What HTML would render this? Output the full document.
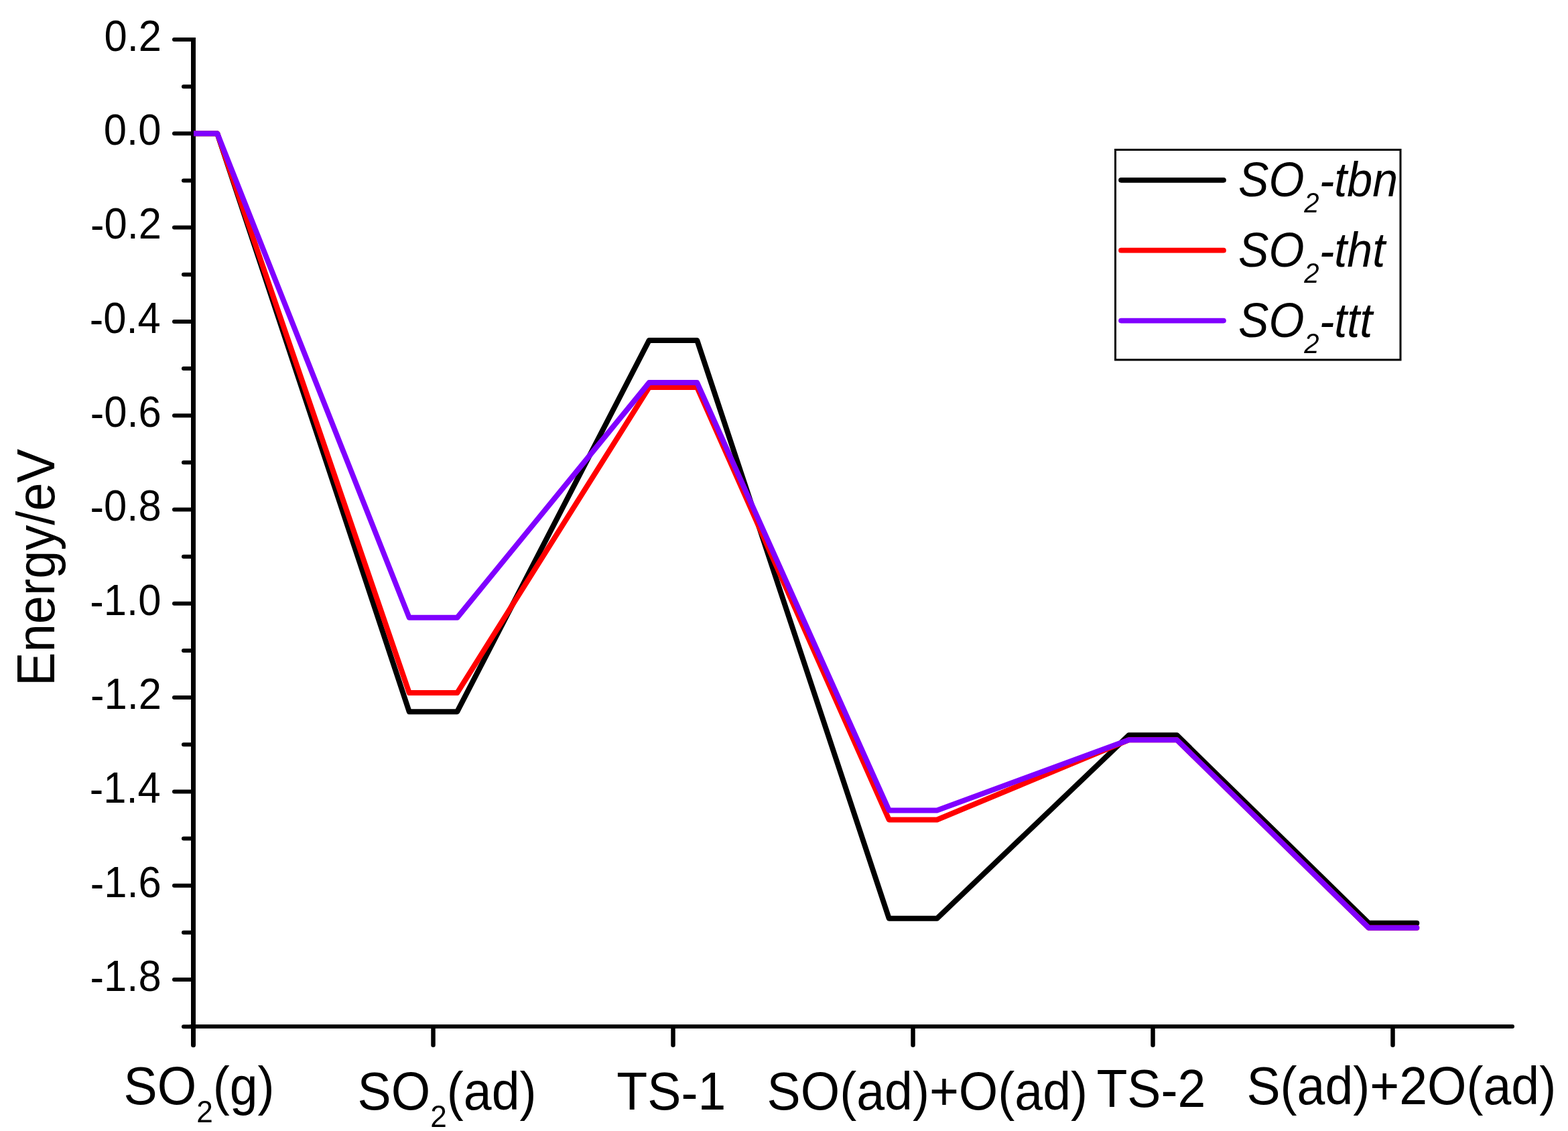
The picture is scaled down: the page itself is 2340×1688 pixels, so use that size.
<!DOCTYPE html>
<html><head><meta charset="utf-8"><title>Energy profile</title>
<style>html,body{margin:0;padding:0;background:#fff;}svg{display:block;}text{font-kerning:none;}</style>
</head><body>
<svg width="2340" height="1688" viewBox="0 0 2340 1688">
<rect width="2340" height="1688" fill="#fff"/>
<g stroke="#000" fill="none">
<line x1="288.5" y1="56" x2="288.5" y2="1559.5" stroke-width="7"/>
<line x1="285" y1="1532" x2="2257" y2="1532" stroke-width="6" stroke-linecap="round"/>
<g stroke-linecap="round">
<line x1="260" y1="59.00" x2="285.5" y2="59.00" stroke-width="6"/>
<line x1="274" y1="129.15" x2="285.5" y2="129.15" stroke-width="6"/>
<line x1="260" y1="199.30" x2="285.5" y2="199.30" stroke-width="6"/>
<line x1="274" y1="269.45" x2="285.5" y2="269.45" stroke-width="6"/>
<line x1="260" y1="339.60" x2="285.5" y2="339.60" stroke-width="6"/>
<line x1="274" y1="409.75" x2="285.5" y2="409.75" stroke-width="6"/>
<line x1="260" y1="479.90" x2="285.5" y2="479.90" stroke-width="6"/>
<line x1="274" y1="550.05" x2="285.5" y2="550.05" stroke-width="6"/>
<line x1="260" y1="620.20" x2="285.5" y2="620.20" stroke-width="6"/>
<line x1="274" y1="690.35" x2="285.5" y2="690.35" stroke-width="6"/>
<line x1="260" y1="760.50" x2="285.5" y2="760.50" stroke-width="6"/>
<line x1="274" y1="830.65" x2="285.5" y2="830.65" stroke-width="6"/>
<line x1="260" y1="900.80" x2="285.5" y2="900.80" stroke-width="6"/>
<line x1="274" y1="970.95" x2="285.5" y2="970.95" stroke-width="6"/>
<line x1="260" y1="1041.10" x2="285.5" y2="1041.10" stroke-width="6"/>
<line x1="274" y1="1111.25" x2="285.5" y2="1111.25" stroke-width="6"/>
<line x1="260" y1="1181.40" x2="285.5" y2="1181.40" stroke-width="6"/>
<line x1="274" y1="1251.55" x2="285.5" y2="1251.55" stroke-width="6"/>
<line x1="260" y1="1321.70" x2="285.5" y2="1321.70" stroke-width="6"/>
<line x1="274" y1="1391.85" x2="285.5" y2="1391.85" stroke-width="6"/>
<line x1="260" y1="1462.00" x2="285.5" y2="1462.00" stroke-width="6"/>
<line x1="274" y1="1532.15" x2="285.5" y2="1532.15" stroke-width="6"/>
<line x1="288.50" y1="1535" x2="288.50" y2="1559.75" stroke-width="7"/>
<line x1="646.50" y1="1535" x2="646.50" y2="1559.75" stroke-width="6.5"/>
<line x1="1004.50" y1="1535" x2="1004.50" y2="1559.75" stroke-width="6.5"/>
<line x1="1362.50" y1="1535" x2="1362.50" y2="1559.75" stroke-width="6.5"/>
<line x1="1720.50" y1="1535" x2="1720.50" y2="1559.75" stroke-width="6.5"/>
<line x1="2078.50" y1="1535" x2="2078.50" y2="1559.75" stroke-width="6.5"/>
</g>
</g>
<g font-family="'Liberation Sans', Arial, sans-serif" fill="#000">
<text transform="translate(155.53,75.85) scale(0.947,1)"><tspan font-size="65">0.2</tspan></text>
<text transform="translate(154.83,216.15) scale(0.947,1)"><tspan font-size="65">0.0</tspan></text>
<text transform="translate(135.03,356.45) scale(0.947,1)"><tspan font-size="65" dy="2.0">-</tspan><tspan font-size="65" dy="-2.0">0.2</tspan></text>
<text transform="translate(133.74,496.75) scale(0.947,1)"><tspan font-size="65" dy="2.0">-</tspan><tspan font-size="65" dy="-2.0">0.4</tspan></text>
<text transform="translate(134.64,637.05) scale(0.947,1)"><tspan font-size="65" dy="2.0">-</tspan><tspan font-size="65" dy="-2.0">0.6</tspan></text>
<text transform="translate(134.61,777.35) scale(0.947,1)"><tspan font-size="65" dy="2.0">-</tspan><tspan font-size="65" dy="-2.0">0.8</tspan></text>
<text transform="translate(134.34,917.65) scale(0.947,1)"><tspan font-size="65" dy="2.0">-</tspan><tspan font-size="65" dy="-2.0">1.0</tspan></text>
<text transform="translate(135.03,1057.95) scale(0.947,1)"><tspan font-size="65" dy="2.0">-</tspan><tspan font-size="65" dy="-2.0">1.2</tspan></text>
<text transform="translate(133.74,1198.25) scale(0.947,1)"><tspan font-size="65" dy="2.0">-</tspan><tspan font-size="65" dy="-2.0">1.4</tspan></text>
<text transform="translate(134.64,1338.55) scale(0.947,1)"><tspan font-size="65" dy="2.0">-</tspan><tspan font-size="65" dy="-2.0">1.6</tspan></text>
<text transform="translate(134.61,1478.85) scale(0.947,1)"><tspan font-size="65" dy="2.0">-</tspan><tspan font-size="65" dy="-2.0">1.8</tspan></text>
</g>
<defs><clipPath id="c"><rect x="289" y="0" width="2100" height="1700"/></clipPath></defs>
<g clip-path="url(#c)" fill="none" stroke-linejoin="round" stroke-linecap="round">
<path d="M288.50,199.30 L324.30,199.30 L610.70,1062.14 L682.30,1062.14 L968.70,507.96 L1040.30,507.96 L1326.70,1370.80 L1398.30,1370.80 L1684.70,1097.22 L1756.30,1097.22 L2042.70,1377.82 L2114.30,1377.82" stroke="#000000" stroke-width="8.0"/>
<path d="M288.50,199.30 L324.30,199.30 L610.70,1034.09 L682.30,1034.09 L968.70,578.11 L1040.30,578.11 L1326.70,1223.49 L1398.30,1223.49 L1684.70,1104.24 L1756.30,1104.24 L2042.70,1384.83 L2114.30,1384.83" stroke="#FF0000" stroke-width="8.0"/>
<path d="M288.50,199.30 L324.30,199.30 L610.70,921.85 L682.30,921.85 L968.70,571.10 L1040.30,571.10 L1326.70,1209.46 L1398.30,1209.46 L1684.70,1104.24 L1756.30,1104.24 L2042.70,1384.83 L2114.30,1384.83" stroke="#8000FF" stroke-width="8.0"/>
</g>
<g font-family="'Liberation Sans', Arial, sans-serif" fill="#000">
<text transform="translate(184.49,1648.00) scale(0.94,1)"><tspan font-size="80">SO</tspan><tspan font-size="47" dy="26.9">2</tspan><tspan font-size="80" dy="-26.9">(g)</tspan></text>
<text transform="translate(533.59,1656.00) scale(0.94,1)"><tspan font-size="80">SO</tspan><tspan font-size="47" dy="25.8">2</tspan><tspan font-size="80" dy="-25.8">(ad)</tspan></text>
<text transform="translate(920.31,1656.00) scale(0.94,1)"><tspan font-size="80">TS</tspan><tspan font-size="80" dy="2.25">-</tspan><tspan font-size="80" dy="-2.25">1</tspan></text>
<text transform="translate(1144.59,1656.00) scale(0.94,1)"><tspan font-size="80">SO(ad)+O(ad)</tspan></text>
<text transform="translate(1636.41,1652.00) scale(0.94,1)"><tspan font-size="80">TS</tspan><tspan font-size="80" dy="2.35">-</tspan><tspan font-size="80" dy="-2.35">2</tspan></text>
<text transform="translate(1860.39,1648.00) scale(0.94,1)"><tspan font-size="80">S(ad)+2O(ad)</tspan></text>
</g>
<g font-family="'Liberation Sans', Arial, sans-serif" fill="#000"><text transform="translate(81.00,1023.92) rotate(-90) scale(0.948,1)"><tspan font-size="80">Energy/eV</tspan></text></g>
<rect x="1664.5" y="223.5" width="425.5" height="313.5" fill="none" stroke="#000" stroke-width="3"/>
<line x1="1673" y1="268.8" x2="1826" y2="268.8" stroke="#000000" stroke-width="7.7" stroke-linecap="round"/>
<line x1="1673" y1="373.7" x2="1826" y2="373.7" stroke="#FF0000" stroke-width="7.7" stroke-linecap="round"/>
<line x1="1673" y1="478.6" x2="1826" y2="478.6" stroke="#8000FF" stroke-width="7.7" stroke-linecap="round"/>
<g font-family="'Liberation Sans', Arial, sans-serif" fill="#000">
<text transform="translate(1847.97,292.85) scale(0.933,1)" font-style="italic"><tspan font-size="73">SO</tspan><tspan font-size="43" dy="23.9">2</tspan><tspan font-size="73" dy="-22.5">-</tspan><tspan font-size="73" dy="-1.4">tbn</tspan></text>
<text transform="translate(1847.97,397.90) scale(0.933,1)" font-style="italic"><tspan font-size="73">SO</tspan><tspan font-size="43" dy="23.9">2</tspan><tspan font-size="73" dy="-22.5">-</tspan><tspan font-size="73" dy="-1.4">tht</tspan></text>
<text transform="translate(1847.97,502.95) scale(0.933,1)" font-style="italic"><tspan font-size="73">SO</tspan><tspan font-size="43" dy="23.9">2</tspan><tspan font-size="73" dy="-22.5">-</tspan><tspan font-size="73" dy="-1.4">ttt</tspan></text>
</g>
</svg>
</body></html>
